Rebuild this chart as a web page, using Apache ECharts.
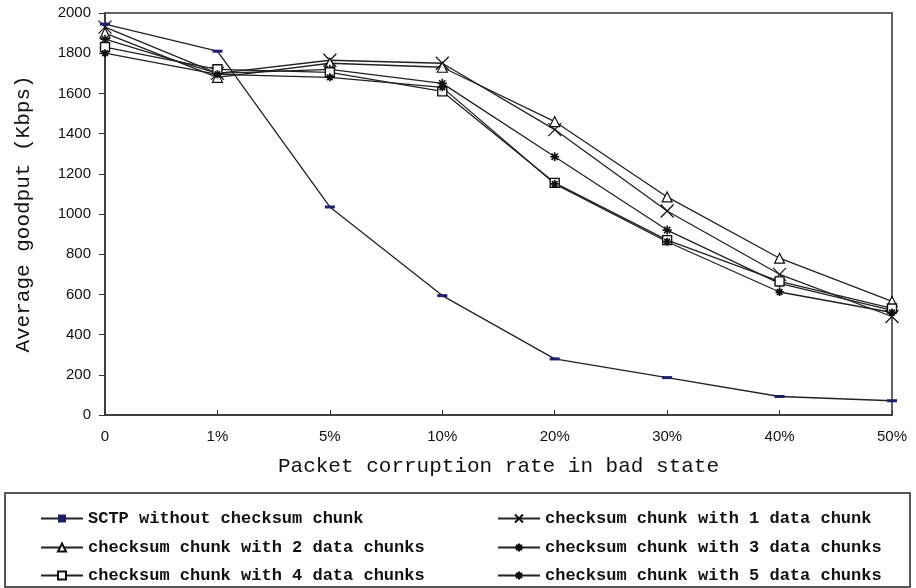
<!DOCTYPE html>
<html><head><meta charset="utf-8">
<script src="https://cdn.jsdelivr.net/npm/echarts@6/dist/echarts.min.js"></script>
<style>html,body{margin:0;padding:0;background:#fff}#c{width:916px;height:588px}</style>
</head><body><div id="c"></div>
<script>
const categories = ['0', '1%', '5%', '10%', '20%', '30%', '40%', '50%'];
const seriesNames = [
  'SCTP without checksum chunk',
  'checksum chunk with 1 data chunk',
  'checksum chunk with 2 data chunks',
  'checksum chunk with 3 data chunks',
  'checksum chunk with 4 data chunks',
  'checksum chunk with 5 data chunks'
];
const sctpNoChecksum = [1945, 1810, 1035, 594, 279, 186, 92, 71];
const chunk1 = [1930, 1700, 1765, 1750, 1420, 1015, 700, 490];
const chunk2 = [1900, 1680, 1750, 1730, 1460, 1085, 780, 565];
const chunk3 = [1870, 1700, 1720, 1650, 1285, 920, 655, 520];
const chunk4 = [1830, 1720, 1705, 1610, 1155, 870, 665, 530];
const chunk5 = [1800, 1695, 1680, 1630, 1150, 862, 612, 510];
const yTicks = [0, 200, 400, 600, 800, 1000, 1200, 1400, 1600, 1800, 2000];

const starPath = 'path://M0,5L10,5M5,0L5,10M1.5,1.5L8.5,8.5M8.5,1.5L1.5,8.5';
const xPath = 'path://M0,0L10,10M10,0L0,10';
const dataSets = [sctpNoChecksum, chunk1, chunk2, chunk3, chunk4, chunk5];
const symbols = [
  {symbol: 'rect', size: [10, 3], style: {color: '#1c1c70', borderWidth: 0}},
  {symbol: xPath, size: 13, style: {color: 'none', borderColor: '#111', borderWidth: 1.2}},
  {symbol: 'triangle', size: 10, style: {color: '#fff', borderColor: '#111', borderWidth: 1.2}},
  {symbol: starPath, size: 9, style: {color: 'none', borderColor: '#111', borderWidth: 1.6}},
  {symbol: 'rect', size: 9, style: {color: '#fff', borderColor: '#111', borderWidth: 1.4}},
  {symbol: starPath, size: 8, style: {color: 'none', borderColor: '#111', borderWidth: 1.8}}
];

const series = dataSets.map((d, i) => ({
  name: seriesNames[i],
  type: 'line',
  data: d,
  symbol: symbols[i].symbol,
  symbolSize: symbols[i].size,
  showAllSymbol: true,
  itemStyle: symbols[i].style,
  lineStyle: {color: '#222', width: 1.3},
  z: i === 0 ? 3 : 2,
  emphasis: {disabled: true},
  animation: false
}));

const legendFont = {fontFamily: 'Liberation Mono', fontSize: 17, fontWeight: 'bold', color: '#111'};
const legendPos = [[40, 510], [497, 510], [40, 539], [497, 539], [40, 567], [497, 567]];
const legends = seriesNames.map((n, i) => ({
  left: legendPos[i][0], top: legendPos[i][1], itemWidth: 42, itemHeight: 10, itemGap: 0,
  padding: 0, data: [n], textStyle: legendFont, selectedMode: false
}));

const chart = echarts.init(document.getElementById('c'));
chart.setOption({
  backgroundColor: '#fff',
  animation: false,
  grid: {left: 105, right: 24, top: 13, bottom: 173, show: true, borderColor: '#333', borderWidth: 1.5, backgroundColor: 'transparent'},
  xAxis: {
    type: 'category', data: categories, boundaryGap: false,
    name: 'Packet corruption rate in bad state', nameLocation: 'middle', nameGap: 41,
    nameTextStyle: {fontFamily: 'Liberation Mono', fontSize: 21, color: '#111'},
    axisLine: {lineStyle: {color: '#333', width: 1.5}},
    axisTick: {alignWithLabel: true, inside: true, length: 5, lineStyle: {color: '#333'}},
    axisLabel: {fontFamily: 'Liberation Sans', fontSize: 15, color: '#111', margin: 14},
    splitLine: {show: false}
  },
  yAxis: {
    type: 'value', min: 0, max: 2000, interval: 200,
    name: 'Average goodput (Kbps)', nameLocation: 'middle', nameGap: 71, nameRotate: 90,
    nameTextStyle: {fontFamily: 'Liberation Mono', fontSize: 21, color: '#111'},
    axisLine: {show: true, lineStyle: {color: '#333', width: 1.5}},
    axisTick: {show: true, length: 6, lineStyle: {color: '#333'}},
    axisLabel: {fontFamily: 'Liberation Sans', fontSize: 15, color: '#111', margin: 14,
      formatter: v => yTicks.includes(v) ? String(v) : ''},
    splitLine: {show: false}
  },
  legend: legends,
  graphic: [{type: 'rect', shape: {x: 5, y: 493, width: 905, height: 94}, style: {fill: 'none', stroke: '#222', lineWidth: 1.5}, silent: true}],
  series: series
});
</script></body></html>
